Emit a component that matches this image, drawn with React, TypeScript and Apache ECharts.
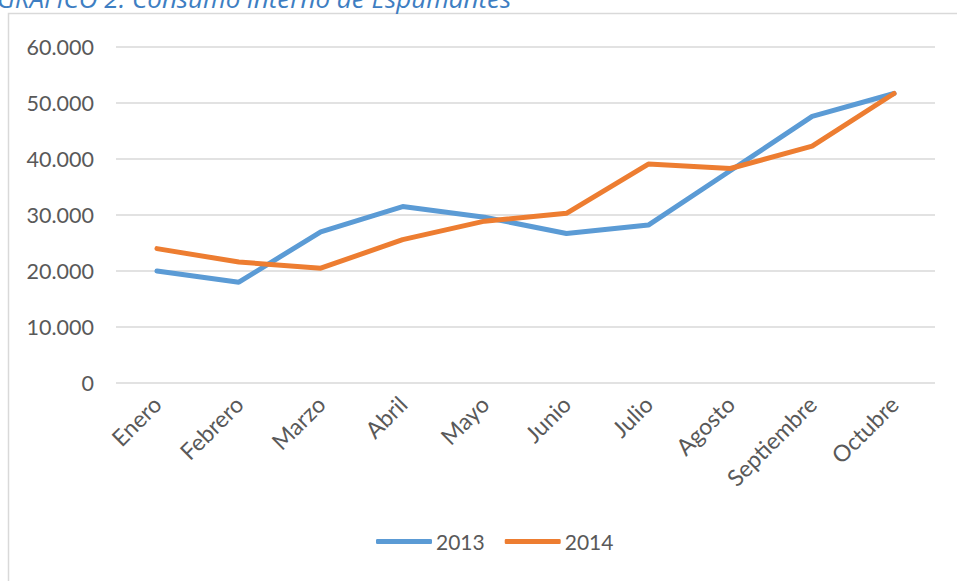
import React, { useEffect, useRef } from "react";
import * as echarts from "echarts";

const categories = ["Enero", "Febrero", "Marzo", "Abril", "Mayo", "Junio", "Julio", "Agosto", "Septiembre", "Octubre"];
const series2013 = [20000, 18000, 27000, 31500, 29600, 26700, 28200, 37900, 47600, 51700];
const series2014 = [24000, 21600, 20500, 25600, 28900, 30300, 39100, 38300, 42300, 51700];
const seriesNames = ["2013", "2014"];
const titleText = "GRÁFICO 2: Consumo interno de Espumantes";

const fmt = (v: number) => {
  if (v === 0) return "0";
  const s = String(Math.round(v));
  return s.replace(/\B(?=(\d{3})+(?!\d))/g, ".");
};

export default function App() {
  const ref = useRef<HTMLDivElement>(null);
  useEffect(() => {
    if (!ref.current) return;
    const chart = echarts.init(ref.current, undefined, { renderer: "svg" });
    const font = "Lato, 'Open Sans', sans-serif";
    chart.setOption({
      animation: false,
      backgroundColor: "#ffffff",
      textStyle: { fontFamily: font },
      graphic: [
        {
          type: "rect",
          shape: { x: 8.5, y: 13.5, width: 960, height: 600 },
          style: { fill: "none", stroke: "#D9D9D9", lineWidth: 1.5 },
          silent: true,
          z: 0,
        },
        {
          type: "text",
          x: -3,
          y: 11,
          style: {
            text: titleText,
            font: "italic 26px 'Open Sans', sans-serif",
            fill: "#3E7EC2",
            verticalAlign: "bottom",
          },
        },
      ],
      grid: { left: 116, right: 22, top: 47, bottom: 198, containLabel: false },
      xAxis: {
        type: "category",
        data: categories,
        boundaryGap: true,
        axisLine: { show: false },
        axisTick: { show: false },
        axisLabel: { rotate: 45, margin: 17, color: "#595959", fontSize: 23, fontFamily: font },
        splitLine: { show: false },
      },
      yAxis: {
        type: "value",
        min: 0,
        max: 60000,
        interval: 10000,
        axisLine: { show: false },
        axisTick: { show: false },
        axisLabel: { color: "#595959", fontSize: 21.5, fontFamily: font, margin: 22, formatter: (v: number) => fmt(v) },
        splitLine: { lineStyle: { color: "#D9D9D9", width: 1.5 } },
      },
      legend: {
        bottom: 24,
        left: 371,
        icon: "roundRect",
        itemWidth: 56,
        itemHeight: 5,
        itemGap: 20,
        textStyle: { color: "#595959", fontSize: 21, fontFamily: font, padding: [0, 0, 0, -1] },
        data: seriesNames,
      },
      series: [
        {
          name: seriesNames[0],
          type: "line",
          data: series2013,
          symbol: "none",
          color: "#5B9BD5",
          lineStyle: { width: 5, color: "#5B9BD5", cap: "round" },
          z: 3,
        },
        {
          name: seriesNames[1],
          type: "line",
          data: series2014,
          symbol: "none",
          color: "#ED7D31",
          lineStyle: { width: 5, color: "#ED7D31", cap: "round" },
          z: 4,
        },
      ],
    });
    return () => chart.dispose();
  }, []);
  return (
    <div
      ref={ref}
      style={{ position: "absolute", left: 0, top: 0, width: 957, height: 581 }}
    />
  );
}
